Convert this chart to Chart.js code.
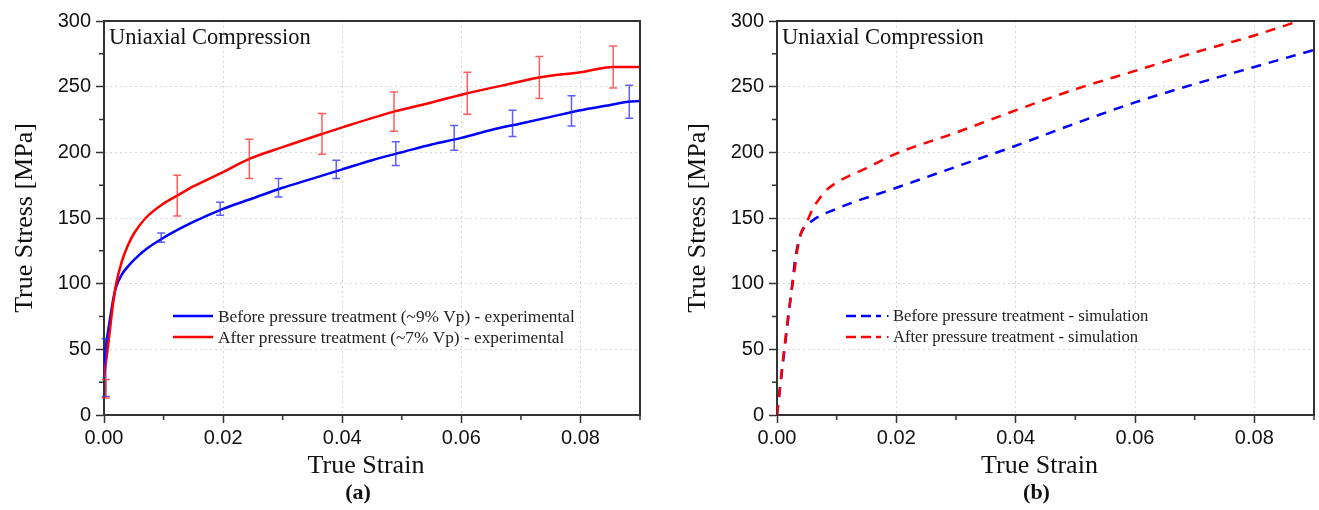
<!DOCTYPE html>
<html>
<head>
<meta charset="utf-8">
<script src="https://cdn.jsdelivr.net/npm/chart.js@4.4.0/dist/chart.umd.min.js"></script>
<style>
  body { margin: 0; background: #fff; }
  #wrap { position: relative; width: 1319px; height: 510px; }
  canvas { position: absolute; top: 0; }
  #left { left: 0; }
  #right { left: 660px; }
</style>
</head>
<body>
<div id="wrap">
  <canvas id="left" width="660" height="510"></canvas>
  <canvas id="right" width="659" height="510"></canvas>
</div>
<script>
// (a) experimental curves
const expBeforeStrain = [0, 0.0005, 0.001, 0.0015, 0.002, 0.003, 0.004, 0.005, 0.007, 0.01, 0.015, 0.02, 0.025, 0.03, 0.035, 0.04, 0.045, 0.05, 0.055, 0.06, 0.065, 0.07, 0.075, 0.08, 0.085, 0.088, 0.09];
const expBeforeStress = [37, 58, 73, 87, 97, 107, 113, 118, 126, 135, 147, 157, 165, 173, 180, 187, 194, 200, 206, 211, 217, 222, 227, 232, 236, 238.5, 239];
const expAfterStrain  = [0, 0.0005, 0.001, 0.0015, 0.002, 0.003, 0.004, 0.005, 0.007, 0.01, 0.0123, 0.015, 0.02, 0.0244, 0.03, 0.0366, 0.04, 0.0487, 0.055, 0.061, 0.067, 0.0731, 0.08, 0.0855, 0.09];
const expAfterStress  = [29, 46, 65, 84, 99, 117, 129, 138, 150, 161, 167, 174, 185, 195, 204, 214, 219, 231, 238, 245, 251, 257, 261, 265, 265];

// (a) error bars: strain, mean stress, half range
const errBeforeStrain = [0.0003, 0.0096, 0.0195, 0.0293, 0.039, 0.049, 0.0588, 0.0686, 0.0785, 0.0882];
const errBeforeStress = [36, 135, 157, 173, 187, 199, 211, 222, 231.5, 238.5];
const errBeforeHalf   = [22, 3.5, 5, 7, 7, 9, 9.5, 10, 11.5, 12.5];
const errAfterStrain  = [0.0003, 0.0123, 0.0244, 0.0366, 0.0487, 0.061, 0.0731, 0.0855];
const errAfterStress  = [20, 167, 195, 214, 231, 245, 257, 265];
const errAfterHalf    = [7, 15.5, 15, 15.5, 15, 16, 16, 16];

// (b) simulation curves
const simBeforeStrain = [0, 0.001, 0.002, 0.0027, 0.003, 0.0035, 0.004, 0.0055, 0.01, 0.02, 0.03, 0.04, 0.05, 0.06, 0.07, 0.08, 0.09];
const simBeforeStress = [0, 40, 78, 105, 117, 130, 138, 146.5, 157, 173, 189, 205, 222, 238, 252, 265, 278];
const simAfterStrain  = [0, 0.001, 0.002, 0.003, 0.0035, 0.004, 0.005, 0.006, 0.007, 0.008, 0.01, 0.015, 0.02, 0.03, 0.04, 0.05, 0.06, 0.07, 0.08, 0.0875];
const simAfterStress  = [0, 42, 80, 112, 128, 138, 147, 157, 164, 170, 177, 188, 199, 215, 232, 248, 262, 276, 289, 300];

const legendA = ['Before pressure treatment (~9% Vp) - experimental', 'After pressure treatment (~7% Vp) - experimental'];
const legendB = ['Before pressure treatment - simulation', 'After pressure treatment - simulation'];

const BLUE = '#0000ff';
const RED = '#ff0000';
const SERIF = '"Liberation Serif", "Times New Roman", serif';
const SANS = '"Liberation Sans", Arial, sans-serif';

const zip = (xs, ys) => xs.map((x, i) => ({ x, y: ys[i] }));

const decor = {
  id: 'decor',
  afterDatasetsDraw(chart, args, opts) {
    const { ctx, scales: { x, y } } = chart;
    (opts.errors || []).forEach(e => {
      ctx.save();
      ctx.strokeStyle = e.color;
      ctx.lineWidth = 1.5;
      e.strain.forEach((s, i) => {
        const px = x.getPixelForValue(s);
        const top = y.getPixelForValue(e.stress[i] + e.half[i]);
        const bot = y.getPixelForValue(e.stress[i] - e.half[i]);
        ctx.beginPath();
        ctx.moveTo(px, top); ctx.lineTo(px, bot);
        ctx.moveTo(px - 4, top); ctx.lineTo(px + 4, top);
        ctx.moveTo(px - 4, bot); ctx.lineTo(px + 4, bot);
        ctx.stroke();
      });
      ctx.restore();
    });
  },
  afterDraw(chart, args, opts) {
    const { ctx, chartArea: a, scales: { x, y } } = chart;
    ctx.save();
    // top and right frame
    ctx.strokeStyle = '#333';
    ctx.lineWidth = 2;
    ctx.beginPath();
    ctx.moveTo(a.left, a.top); ctx.lineTo(a.right, a.top); ctx.lineTo(a.right, a.bottom);
    ctx.stroke();
    // minor ticks
    ctx.lineWidth = 1.5;
    ctx.beginPath();
    x.ticks.forEach((t, i) => {
      if (i % 2 === 1) {
        const px = x.getPixelForValue(t.value);
        ctx.moveTo(px, a.bottom); ctx.lineTo(px, a.bottom + 5);
      }
    });
    y.ticks.forEach((t, i) => {
      if (i % 2 === 1) {
        const py = y.getPixelForValue(t.value);
        ctx.moveTo(a.left, py); ctx.lineTo(a.left - 5, py);
      }
    });
    ctx.stroke();

    // inner label
    ctx.fillStyle = '#111';
    ctx.font = '22.5px ' + SERIF;
    ctx.textAlign = 'left';
    ctx.textBaseline = 'alphabetic';
    ctx.fillText('Uniaxial Compression', a.left + 5, a.top + 23);

    // legend
    ctx.font = opts.legendSize + 'px ' + SERIF;
    ctx.textBaseline = 'middle';
    opts.legend.forEach((txt, i) => {
      const ly = a.top + 295 + i * 21;
      ctx.strokeStyle = i === 0 ? BLUE : RED;
      ctx.lineWidth = 2.5;
      ctx.setLineDash(opts.dashed ? [10, 5] : []);
      ctx.beginPath();
      ctx.moveTo(a.left + 69, ly); ctx.lineTo(a.left + (opts.dashed ? 104 : 109), ly);
      ctx.stroke();
      ctx.setLineDash([]);
      if (opts.dashed) {
        ctx.fillStyle = i === 0 ? BLUE : RED;
        ctx.fillRect(a.left + 110, ly - 1, 1.5, 2);
      }
      ctx.fillStyle = '#222';
      ctx.fillText(txt, a.left + (opts.dashed ? 116 : 114), ly + 1);
    });

    // axis titles
    const mid = (a.left + a.right) / 2;
    ctx.fillStyle = '#111';
    ctx.font = '26px ' + SERIF;
    ctx.textAlign = 'center';
    ctx.fillText('True Strain', mid - 6, 466);
    ctx.save();
    ctx.translate(a.left - 79, (a.top + a.bottom) / 2);
    ctx.rotate(-Math.PI / 2);
    ctx.fillText('True Stress [MPa]', 0, 0);
    ctx.restore();
    ctx.font = 'bold 22px ' + SERIF;
    ctx.fillText(opts.caption, mid + opts.capDx, 493);
    ctx.restore();
  }
};

function makeChart(id, datasets, extra, yWidth, padRight) {
  return new Chart(document.getElementById(id), {
    type: 'scatter',
    data: { datasets },
    plugins: [decor],
    options: {
      responsive: false,
      animation: false,
      layout: { padding: { top: 21, right: padRight, left: 0, bottom: 0 } },
      elements: { point: { radius: 0 }, line: { cubicInterpolationMode: 'monotone' } },
      scales: {
        x: {
          type: 'linear', min: 0, max: 0.09,
          afterFit: s => { s.height = 95; },
          ticks: {
            stepSize: 0.01, autoSkip: false, maxRotation: 0, padding: 3,
            color: '#111', font: { family: SANS, size: 20 },
            callback: (v, i) => i % 2 === 0 ? v.toFixed(2) : ''
          },
          grid: {
            color: c => c.index % 2 === 0 ? '#d6d6d6' : 'rgba(0,0,0,0)',
            tickColor: c => c.index % 2 === 0 ? '#333' : 'rgba(0,0,0,0)',
            tickLength: 8, tickWidth: 1.5, lineWidth: 1
          },
          border: { display: true, color: '#333', width: 2, dash: [2, 3] }
        },
        y: {
          type: 'linear', min: 0, max: 300,
          afterFit: s => { s.width = yWidth; },
          ticks: {
            stepSize: 25, autoSkip: false, padding: 5,
            color: '#111', font: { family: SANS, size: 20 },
            callback: v => v % 50 === 0 ? String(v) : ''
          },
          grid: {
            color: c => c.index % 2 === 0 ? '#d6d6d6' : 'rgba(0,0,0,0)',
            tickColor: c => c.index % 2 === 0 ? '#333' : 'rgba(0,0,0,0)',
            tickLength: 8, tickWidth: 1.5, lineWidth: 1
          },
          border: { display: true, color: '#333', width: 2, dash: [2, 3] }
        }
      },
      plugins: { legend: { display: false }, tooltip: { enabled: false }, decor: extra }
    }
  });
}

makeChart('left', [
  { label: legendA[0], data: zip(expBeforeStrain, expBeforeStress), showLine: true, borderColor: BLUE, borderWidth: 2.5, order: 1 },
  { label: legendA[1], data: zip(expAfterStrain, expAfterStress), showLine: true, borderColor: RED, borderWidth: 2.5, order: 0 }
], {
  legend: legendA, legendSize: 17.3, dashed: false, caption: '(a)', capDx: -14,
  errors: [
    { color: 'rgba(40,40,255,0.75)', strain: errBeforeStrain, stress: errBeforeStress, half: errBeforeHalf },
    { color: 'rgba(255,40,40,0.75)', strain: errAfterStrain, stress: errAfterStress, half: errAfterHalf }
  ]
}, 104, 20);

makeChart('right', [
  { label: legendB[0], data: zip(simBeforeStrain, simBeforeStress), showLine: true, borderColor: BLUE, borderWidth: 2.5, borderDash: [10, 8], order: 1 },
  { label: legendB[1], data: zip(simAfterStrain, simAfterStress), showLine: true, borderColor: RED, borderWidth: 2.5, borderDash: [10, 8], order: 0 }
], {
  legend: legendB, legendSize: 16.6, dashed: true, caption: '(b)', capDx: -9, errors: []
}, 117, 5);
</script>
</body>
</html>
